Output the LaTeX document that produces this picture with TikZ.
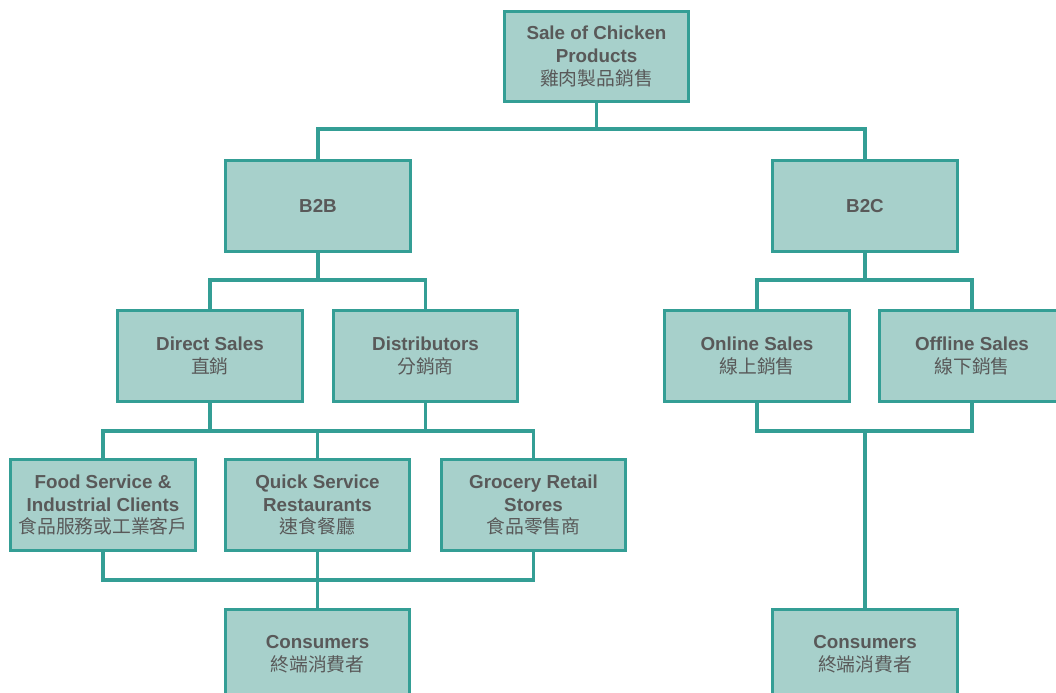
\documentclass[tikz,border=0pt]{standalone}
\usepackage{fontspec}
\setmainfont{Liberation Sans}
\newfontfamily\cjk{Noto Sans CJK TC}
\newcommand{\zh}[1]{{\cjk\mdseries #1}}
\definecolor{boxfill}{HTML}{A7D0CB}
\definecolor{boxline}{HTML}{349E95}
\definecolor{boxtext}{HTML}{595959}
\begin{document}
\begin{tikzpicture}[x=0.02cm,y=-0.02cm,
    orgbox/.style={rectangle,draw=boxline,fill=boxfill,line width=1.7pt,minimum width=3.7cm,minimum height=1.82cm,inner sep=2pt,align=center,text=boxtext,font=\fontsize{10.7}{13}\selectfont\bfseries},
    link/.style={draw=boxline,line width=1.8pt}]
      \useasboundingbox (0,0) rectangle (1056,693);
      \clip (0,0) rectangle (1056,693);
      % levels
      \node [orgbox] (top) at (596.5,56.5) {Sale of Chicken\\Products\\\zh{雞肉製品銷售}};
      \node [orgbox] (b2b) at (318,206) {B2B};
      \node [orgbox] (b2c) at (865,206) {B2C};
      \node [orgbox] (direct) at (210,356) {Direct Sales\\\zh{直銷}};
      \node [orgbox] (distrib) at (425.5,356) {Distributors\\\zh{分銷商}};
      \node [orgbox] (online) at (757,356) {Online Sales\\\zh{線上銷售}};
      \node [orgbox] (offline) at (972,356) {Offline Sales\\\zh{線下銷售}};
      \node [orgbox] (food) at (103,505) {Food Service \&\\Industrial Clients\\\zh{食品服務或工業客戶}};
      \node [orgbox] (quick) at (317.5,505) {Quick Service\\Restaurants\\\zh{速食餐廳}};
      \node [orgbox] (grocery) at (533.5,505) {Grocery Retail\\Stores\\\zh{食品零售商}};
      \node [orgbox] (consL) at (317.5,654.5) {Consumers\\\zh{終端消費者}};
      \node [orgbox] (consR) at (865,654.5) {Consumers\\\zh{終端消費者}};
      % bus points
      \coordinate (j1) at (596.5,129);
      \coordinate (j2) at (318,280);
      \coordinate (j3) at (865,280);
      \coordinate (j4) at (317.5,431);
      \coordinate (j5) at (865,431);
      \coordinate (j6) at (317.5,580);
      % connectors
      \draw [link] (top) -- (j1);
      \foreach \n in {b2b,b2c}
       {\draw [link] (j1) -| (\n.north);}
      \draw [link] (b2b) -- (j2);
      \foreach \n in {direct,distrib}
       {\draw [link] (j2) -| (\n.north);
        \draw [link] (\n.south) |- (j4);}
      \foreach \n in {food,quick,grocery}
       {\draw [link] (j4) -| (\n.north);
        \draw [link] (\n.south) |- (j6);}
      \draw [link] (j6) -- (consL.north);
      \draw [link] (b2c) -- (j3);
      \foreach \n in {online,offline}
       {\draw [link] (j3) -| (\n.north);
        \draw [link] (\n.south) |- (j5);}
      \draw [link] (j5) -- (consR.north);
\end{tikzpicture}
\end{document}
